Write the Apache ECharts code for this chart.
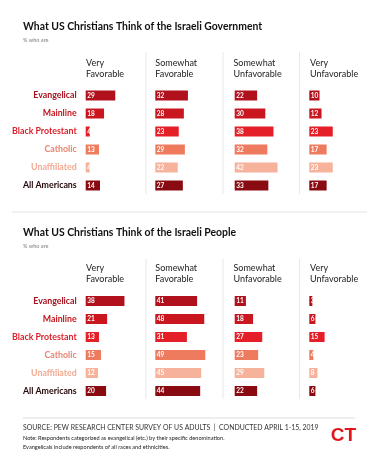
<!DOCTYPE html>
<html><head><meta charset="utf-8">
<script src="https://cdn.jsdelivr.net/npm/echarts@6/dist/echarts.min.js"></script>
<style>html,body{margin:0;padding:0;background:#fff}#c{width:380px;height:466px}</style>
</head><body><div id="c"></div>
<script>
const categories = ['Evangelical', 'Mainline', 'Black Protestant', 'Catholic', 'Unaffiliated', 'All Americans'];
const columnHeaders = [['Very', 'Favorable'], ['Somewhat', 'Favorable'], ['Somewhat', 'Unfavorable'], ['Very', 'Unfavorable']];
// Israeli Government
const govVeryFav = [29, 18, 4, 13, 4, 14];
const govSomeFav = [32, 28, 23, 29, 22, 27];
const govSomeUnfav = [22, 30, 38, 32, 42, 33];
const govVeryUnfav = [10, 12, 23, 17, 23, 17];
// Israeli People
const pplVeryFav = [38, 21, 13, 15, 12, 20];
const pplSomeFav = [41, 48, 31, 49, 45, 44];
const pplSomeUnfav = [11, 18, 27, 23, 29, 22];
const pplVeryUnfav = [3, 6, 15, 4, 8, 6];

const titleGov = 'What US Christians Think of the Israeli Government';
const titlePpl = 'What US Christians Think of the Israeli People';
const subTitle = '% who are';
const sourceText = 'SOURCE: PEW RESEARCH CENTER SURVEY OF US ADULTS  |  CONDUCTED APRIL 1-15, 2019';
const note1 = 'Note: Respondents categorized as evangelical (etc.) by their specific denomination.';
const note2 = 'Evangelicals include respondents of all races and ethnicities.';

const barColors = ['#b0111c', '#c9161f', '#e41f27', '#ee7b5e', '#f7b29c', '#8a0a12'];
const labelColors = ['#a8131e', '#c2171f', '#dc1f29', '#e8856e', '#f2aa93', '#240709'];
const FONT = 'Lato';

const colLeft = [85.7, 155.3, 234.7, 309.3];
const pxPerUnit = 1.02;
const xMax = 60;
const sections = [
  { top: 86.5, height: 108, data: [govVeryFav, govSomeFav, govSomeUnfav, govVeryUnfav] },
  { top: 292, height: 108, data: [pplVeryFav, pplSomeFav, pplSomeUnfav, pplVeryUnfav] }
];

const grid = [], xAxis = [], yAxis = [], series = [];
const rich = {};
labelColors.forEach((c, i) => { rich['c' + i] = { color: c, fontFamily: FONT, fontWeight: 'bold', fontSize: 8.8 }; });

sections.forEach((s, si) => {
  s.data.forEach((vals, ci) => {
    const idx = grid.length;
    grid.push({ left: colLeft[ci], top: s.top, width: xMax * pxPerUnit, height: s.height, containLabel: false });
    xAxis.push({ gridIndex: idx, type: 'value', min: 0, max: xMax, show: false });
    yAxis.push({
      gridIndex: idx, type: 'category', data: categories, inverse: true,
      axisLine: { show: false }, axisTick: { show: false }, splitLine: { show: false },
      axisLabel: {
        show: ci === 0, margin: 9, align: 'right',
        formatter: (v) => '{c' + categories.indexOf(v) + '|' + v + '}', rich: rich
      }
    });
    series.push({
      type: 'bar', xAxisIndex: idx, yAxisIndex: idx, barWidth: 10, silent: true,
      data: vals.map((v, k) => ({ value: v, itemStyle: { color: barColors[k] } })),
      label: { show: true, position: 'insideLeft', distance: 1.5, color: '#fff', fontFamily: FONT, fontWeight: 'bold', fontSize: 6.5 }
    });
  });
});

const graphic = [];
function txt(x, y, text, font, fill, align) {
  graphic.push({ type: 'text', x: x, y: y, silent: true,
    style: { text: text, font: font, fill: fill, textAlign: align || 'left', textVerticalAlign: 'middle', align: align || 'left', verticalAlign: 'middle' } });
}
function line(x1, y1, x2, y2, stroke, w) {
  graphic.push({ type: 'line', silent: true, shape: { x1, y1, x2, y2 }, style: { stroke: stroke, lineWidth: w || 1 } });
}
const headerX = [86, 155.3, 233.5, 310];
const secLayout = [
  { title: titleGov, titleY: 27, subY: 40.5, h1: 63.3, h2: 74, divTop: 52, divBot: 194 },
  { title: titlePpl, titleY: 233, subY: 246, h1: 268.5, h2: 279.5, divTop: 259, divBot: 399 }
];
secLayout.forEach(L => {
  txt(23, L.titleY, L.title, 'bold 10.4px ' + FONT, '#111');
  txt(23, L.subY, subTitle, 'bold 5.5px ' + FONT, '#9a9a9a');
  columnHeaders.forEach((h, i) => {
    txt(headerX[i], L.h1, h[0], '9px ' + FONT, '#222');
    txt(headerX[i], L.h2, h[1], '9px ' + FONT, '#222');
  });
  [146, 223, 299.5].forEach(x => line(x, L.divTop, x, L.divBot, '#e8e8e8', 1));
});
line(12, 212, 367, 212, '#e4e4e4', 1);
line(23, 418, 355, 418, '#dcdcdc', 1);
txt(23, 427.5, sourceText, '6.9px ' + FONT, '#333');
txt(23, 438, note1, '5.6px ' + FONT, '#222');
txt(23, 447.5, note2, '5.6px ' + FONT, '#222');
txt(343.5, 435.5, 'CT', '900 19px "Liberation Sans"', '#e3161b', 'center');

const chart = echarts.init(document.getElementById('c'), null, { renderer: 'canvas' });
chart.setOption({ backgroundColor: '#fff', animation: false, grid, xAxis, yAxis, series, graphic });
</script></body></html>
